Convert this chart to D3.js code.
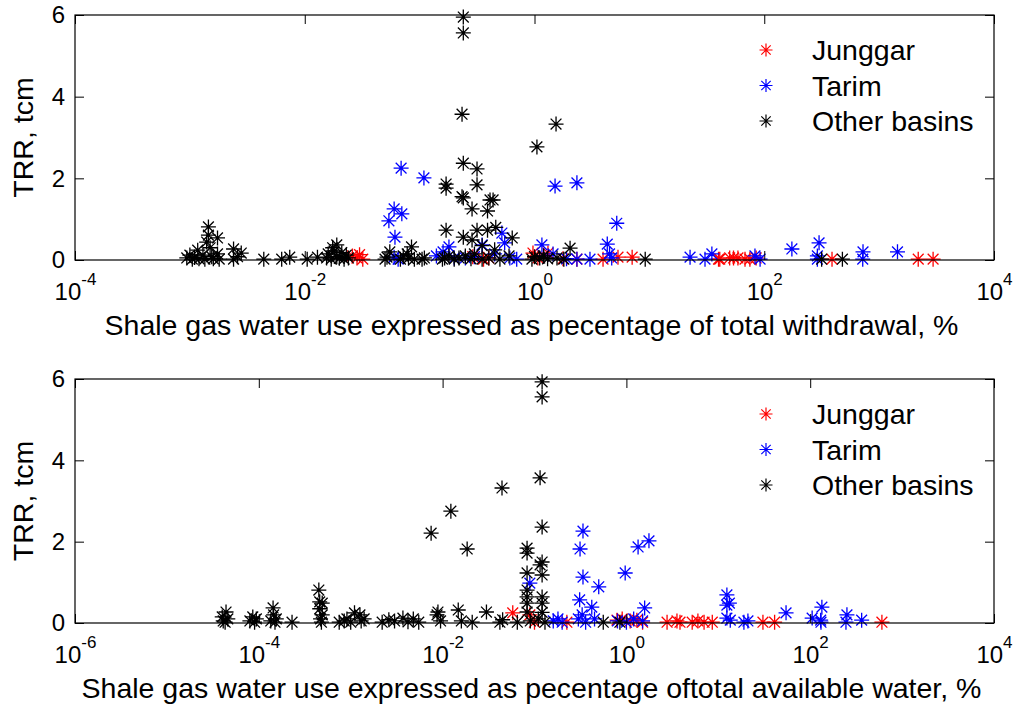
<!DOCTYPE html>
<html>
<head>
<meta charset="utf-8">
<script src="https://cdnjs.cloudflare.com/ajax/libs/d3/7.8.5/d3.min.js"></script>
<style>
  body { margin: 0; background: #fff; }
  svg { font-family: "Liberation Sans", Arial, sans-serif; }
</style>
</head>
<body>
<div id="chart"></div>
<script>
// Data: [x in %, TRR in tcm]
// ===========================
var topJunggar = [[0.026,0.1],[0.0285,0.05],[0.03,0.13],[0.032,0.02],[0.29,0.08],[0.36,0.02],[0.4,0.05],
  [0.97,0.17],[1.07,0.05],[1.2,0.1],[1.31,0.17],[1.77,0.03],[2.34,0.02],[3.95,0.02],[5.33,0.07],[7.08,0.07],
  [40,0.02],[41,0.02],[50,0.05],[54,0.05],[59,0.05],[68,0.02],[75,0.02],[85,0.05],[389,0.02],[2190,0.02],[2950,0.02]];

var topTarim = [[0.054,0.96],[0.06,1.25],[0.069,2.25],[0.07,1.13],[0.061,0.56],[0.06,0.07],[0.065,0.02],[0.109,2.01],
  [0.14,0.1],[0.16,0.2],[0.18,0.32],[0.2,0.05],[0.25,0.05],[0.3,0.08],[0.35,0.37],[0.45,0.15],[0.52,0.66],[0.55,0.42],
  [0.61,0.05],[0.7,0.02],[1.16,0.37],[1.2,0.1],[1.45,0.15],[1.51,1.81],[1.9,0.03],[2.34,1.89],[2.34,0.02],[3.04,0.02],
  [4.3,0.39],[4.5,0.15],[4.7,0.05],[5.2,0.9],[22.6,0.07],[30.5,0.02],[35,0.15],[83,0.1],[92,0.02],[174,0.27],
  [290,0.1],[290,0.02],[300,0.42],[720,0.02],[724,0.2],[1445,0.2]];

var topOther = [[9.4e-4,0.05],[1.0e-3,0.12],[1.05e-3,0.02],[1.1e-3,0.06],[1.17e-3,0.24],[1.2e-3,0.03],[1.3e-3,0.12],
  [1.35e-3,0.02],[1.45e-3,0.81],[1.45e-3,0.61],[1.4e-3,0.44],[1.5e-3,0.3],[1.55e-3,0.08],[1.6e-3,0.03],[1.74e-3,0.54],
  [1.74e-3,0.15],[1.8e-3,0.02],[2.4e-3,0.27],[2.4e-3,0.02],[2.6e-3,0.08],[2.8e-3,0.17],[4.4e-3,0.02],[6.3e-3,0.02],
  [7.4e-3,0.07],[0.0105,0.02],[0.0129,0.07],[0.0155,0.05],[0.016,0.15],[0.017,0.02],[0.0175,0.3],[0.018,0.22],
  [0.019,0.08],[0.019,0.37],[0.02,0.04],[0.021,0.18],[0.022,0.02],[0.023,0.12],[0.024,0.05],[0.05,0.02],[0.052,0.07],
  [0.055,0.2],[0.068,0.02],[0.072,0.1],[0.078,0.15],[0.08,0.04],[0.085,0.32],[0.09,0.02],[0.105,0.02],[0.11,0.05],
  [0.158,0.02],[0.165,0.05],[0.17,0.73],[0.18,0.1],[0.24,5.95],[0.24,5.56],[0.234,3.57],[0.24,2.37],[0.316,2.23],
  [0.17,1.86],[0.17,1.76],[0.316,1.84],[0.234,1.55],[0.24,1.52],[0.41,1.47],[0.436,1.47],[0.286,1.25],[0.39,1.2],
  [0.24,0.56],[0.316,0.73],[0.46,0.8],[0.64,0.54],[0.39,0.73],[0.286,0.49],[0.35,0.35],[0.2,0.02],[0.22,0.05],
  [0.25,0.1],[0.28,0.03],[0.3,0.15],[0.35,0.02],[0.4,0.05],[0.45,0.25],[0.5,0.02],[0.6,0.1],[0.95,0.02],[1.0,0.08],
  [1.05,2.77],[1.11,0.05],[1.2,0.1],[1.3,0.03],[1.54,3.33],[1.57,0.05],[2.04,0.29],[1.8,0.02],[9.2,0.02],[316,0.02],[479,0.02]];

var bottomJunggar = [[0.058,0.25],[0.089,0.2],[0.1,0.02],[0.225,0.02],[0.79,0.07],[0.9,0.1],[1.1,0.05],[1.3,0.07],
  [1.5,0.02],[2.77,0.02],[3.55,0.05],[3.83,0.02],[5.2,0.02],[6.0,0.05],[7.0,0.02],[8.6,0.02],[30.6,0.02],[41,0.02],[603,0.02]];

var bottomTarim = [[0.089,0.98],[0.16,0.05],[0.18,0.1],[0.2,0.02],[0.313,1.82],[0.337,2.26],[0.337,1.13],[0.31,0.57],
  [0.3,0.1],[0.33,0.2],[0.36,0.02],[0.42,0.39],[0.45,0.1],[0.5,0.89],[0.97,1.23],[0.8,0.05],[1.0,0.02],[1.2,0.1],
  [1.34,1.87],[1.58,0.37],[1.76,2.02],[1.5,0.05],[12.4,0.69],[12.4,0.44],[13.2,0.49],[12.4,0.12],[13.5,0.07],[19,0.02],
  [21,0.05],[54.6,0.25],[105,0.12],[134,0.39],[130,0.07],[131,0.02],[251,0.2],[245,0.02],[363,0.07]];

var bottomOther = [[4.1e-5,0.05],[4.0e-5,0.15],[4.4e-5,0.27],[4.6e-5,0.1],[4.3e-5,0.02],[8.0e-5,0.05],[8.6e-5,0.15],
  [9.0e-5,0.02],[9.4e-5,0.1],[1.35e-4,0.05],[1.43e-4,0.37],[1.45e-4,0.2],[1.5e-4,0.02],[1.55e-4,0.1],[2.3e-4,0.02],
  [4.5e-4,0.81],[4.6e-4,0.52],[4.9e-4,0.49],[4.6e-4,0.35],[4.7e-4,0.1],[4.8e-4,0.02],[4.9e-4,0.2],[7.5e-4,0.02],
  [8.5e-4,0.05],[9.1e-4,0.1],[1.0e-3,0.02],[1.1e-3,0.25],[1.26e-3,0.2],[1.3e-3,0.05],[1.4e-3,0.1],[2.2e-3,0.02],
  [2.6e-3,0.08],[3.0e-3,0.05],[3.7e-3,0.12],[4.2e-3,0.03],[4.8e-3,0.1],[5.5e-3,0.02],[7.5e-3,2.21],[8.7e-3,0.2],
  [8.9e-3,0.27],[9.5e-3,0.05],[0.0123,2.75],[0.0148,0.32],[0.016,0.05],[0.0185,1.82],[0.021,0.02],[0.03,0.27],
  [0.042,0.02],[0.045,0.08],[0.0443,3.32],[0.065,0.02],[0.121,5.93],[0.121,5.56],[0.115,3.57],[0.121,2.36],
  [0.083,1.84],[0.083,1.72],[0.121,1.5],[0.115,1.43],[0.083,1.23],[0.121,1.18],[0.083,0.81],[0.083,0.64],[0.121,0.64],
  [0.083,0.49],[0.121,0.49],[0.083,0.27],[0.121,0.26],[0.09,0.05],[0.11,0.1],[0.13,0.02],[0.56,0.02],[0.85,0.02]];

var seriesNames = ["Junggar", "Tarim", "Other basins"];
var seriesColors = ["#ff0000", "#0000ff", "#000000"];
var yTicks = [0, 2, 4, 6];
var topXTicks = [1e-4, 1e-2, 1, 1e2, 1e4];
var bottomXTicks = [1e-6, 1e-4, 1e-2, 1, 1e2, 1e4];
var topXLabel = "Shale gas water use expressed as pecentage of total withdrawal, %";
var bottomXLabel = "Shale gas water use expressed as pecentage oftotal available water, %";
var yLabel = "TRR, tcm";

// Canvas
var width = 1017;
var height = 709;
var left = 75, right = 994;
var tickLen = 9;

var svg = d3.select("#chart")
  .append("svg")
  .attr("width", width)
  .attr("height", height);

// asterisk marker like matlab's '*'
function starPath(r) {
  var d = r * 0.72;
  return "M" + (-r) + ",0H" + r + "M0," + (-r) + "V" + r +
    "M" + (-d) + "," + (-d) + "L" + d + "," + d +
    "M" + (-d) + "," + d + "L" + d + "," + (-d);
}

function drawPanel(top, bottom, xDomain, xTicks, xLabel, series) {
  var xScale = d3.scaleLog().domain(xDomain).range([left, right]);
  var yScale = d3.scaleLinear().domain([0, 6]).range([bottom, top]);
  var g = svg.append("g");

  // points (red, then blue, then black on top)
  series.forEach(function(data, i) {
    g.append("g")
      .selectAll("path")
      .data(data)
      .enter()
      .append("path")
      .attr("d", starPath(7.5))
      .attr("transform", function(d) {
        return "translate(" + xScale(d[0]) + "," + yScale(d[1]) + ")";
      })
      .attr("fill", "none")
      .attr("stroke", seriesColors[i])
      .attr("stroke-width", 1.3);
  });

  // box
  g.append("rect")
    .attr("x", left).attr("y", top)
    .attr("width", right - left).attr("height", bottom - top)
    .attr("fill", "none").attr("stroke", "#000").attr("stroke-width", 1.2);

  // bottom axis, ticks pointing inward
  var xAxis = d3.axisBottom(xScale).tickValues(xTicks).tickSize(-tickLen).tickFormat("");
  var xg = g.append("g")
    .attr("transform", "translate(0," + bottom + ")")
    .call(xAxis);
  xg.select(".domain").remove();

  // top mirror ticks
  var xTop = g.append("g")
    .attr("transform", "translate(0," + top + ")")
    .call(d3.axisTop(xScale).tickValues(xTicks).tickSize(-tickLen).tickFormat(""));
  xTop.select(".domain").remove();

  // 10^n labels
  xg.selectAll(".tick").each(function(v) {
    var t = d3.select(this).append("text")
      .attr("y", 40)
      .attr("fill", "#000")
      .attr("text-anchor", "middle")
      .style("font-size", "24px");
    t.append("tspan").text("10");
    t.append("tspan")
      .attr("dy", -15)
      .style("font-size", "17px")
      .text(Math.round(Math.log10(v)));
  });

  // left axis with inward ticks
  var yg = g.append("g")
    .attr("transform", "translate(" + left + ",0)")
    .call(d3.axisLeft(yScale).tickValues(yTicks).tickSize(-tickLen).tickPadding(10).tickFormat(d3.format("d")));
  yg.select(".domain").remove();
  yg.selectAll("text").style("font-size", "24px").attr("fill", "#000");

  var yr = g.append("g")
    .attr("transform", "translate(" + right + ",0)")
    .call(d3.axisRight(yScale).tickValues(yTicks).tickSize(-tickLen).tickFormat(""));
  yr.select(".domain").remove();
  g.selectAll(".tick line").attr("stroke", "#000");

  // axis labels
  g.append("text")
    .attr("x", (left + right) / 2 - 3)
    .attr("y", bottom + 75)
    .attr("text-anchor", "middle")
    .style("font-size", "28.5px")
    .text(xLabel);

  g.append("text")
    .attr("transform", "translate(33," + (top + bottom) / 2 + ")rotate(-90)")
    .attr("text-anchor", "middle")
    .style("font-size", "28.5px")
    .text(yLabel);

  // legend, no box
  var legend = g.append("g");
  seriesNames.forEach(function(name, i) {
    var ly = top + 35 + i * 35.5;
    legend.append("path")
      .attr("d", starPath(6.5))
      .attr("transform", "translate(766," + ly + ")")
      .attr("fill", "none")
      .attr("stroke", seriesColors[i])
      .attr("stroke-width", 1.2);
    legend.append("text")
      .attr("x", 812)
      .attr("y", ly + 10)
      .style("font-size", "28.5px")
      .text(name);
  });
}

drawPanel(15, 260, [1e-4, 1e4], topXTicks, topXLabel, [topJunggar, topTarim, topOther]);
drawPanel(379, 623, [1e-6, 1e4], bottomXTicks, bottomXLabel, [bottomJunggar, bottomTarim, bottomOther]);
</script>
</body>
</html>
